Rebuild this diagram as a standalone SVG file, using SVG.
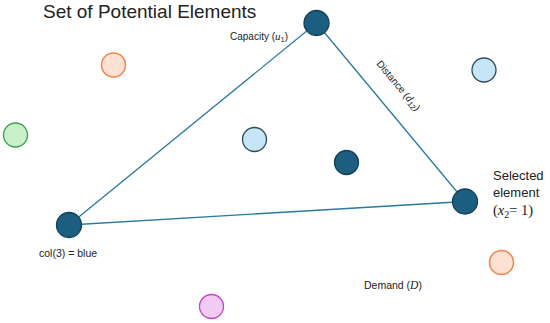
<svg xmlns="http://www.w3.org/2000/svg" width="550" height="323" viewBox="0 0 550 323">
<style>
.lbl{font-family:"Liberation Sans",Arial,sans-serif;fill:#222}
.m{font-family:"Liberation Serif","Times New Roman",serif;font-style:italic}
.s{font-family:"Liberation Serif","Times New Roman",serif;font-style:normal}
.dark{fill:#1b5e80;stroke:#143f55;stroke-width:1.3}
.lb{fill:#c6e5f6;stroke:#2c4d5e;stroke-width:1.3}
.or{fill:#fde1d3;stroke:#f0844a;stroke-width:1.5}
.gr{fill:#c9f0c9;stroke:#3f9f4f;stroke-width:1.3}
.pk{fill:#f1cbf1;stroke:#c244c2;stroke-width:1.3}
.edge{stroke:#2a7aa0;stroke-width:1.3;fill:none}
</style>
<rect width="550" height="323" fill="#fff"/>
<text class="lbl" x="43" y="18" font-size="19">Set of Potential Elements</text>
<g id="connectors">
<line class="edge" x1="316.5" y1="23" x2="69" y2="225"/>
<line class="edge" x1="316.5" y1="23" x2="465" y2="201.5"/>
<line class="edge" x1="69" y1="225" x2="465" y2="201.5"/>
</g>
<g id="n1"><circle class="dark" cx="316.5" cy="23" r="12.5"/></g>
<g id="n2"><circle class="dark" cx="465" cy="201.5" r="12.5"/></g>
<g id="n3"><circle class="dark" cx="69" cy="225" r="12.5"/></g>
<g id="n4"><circle class="dark" cx="346.5" cy="162.5" r="12"/></g>
<g id="n5"><circle class="lb" cx="254.5" cy="139.5" r="12"/></g>
<g id="n6"><circle class="lb" cx="484" cy="70" r="12"/></g>
<g id="n7"><circle class="or" cx="113.5" cy="65" r="12"/></g>
<g id="n8"><circle class="gr" cx="15.5" cy="135" r="12"/></g>
<g id="n9"><circle class="pk" cx="211.5" cy="306.5" r="12"/></g>
<g id="n10"><circle class="or" cx="501.5" cy="262.5" r="12"/></g>
<text class="lbl" x="230" y="40" font-size="10">Capacity (<tspan class="m" font-size="11">u</tspan><tspan font-size="7.5" dy="2">1</tspan><tspan dy="-2">)</tspan></text>
<text class="lbl" transform="translate(376,64) rotate(50)" font-size="10">Distance (<tspan class="m" font-size="11">d</tspan><tspan font-size="7.5" dy="2">12</tspan><tspan dy="-2">)</tspan></text>
<text class="lbl" font-size="13"><tspan x="493" y="180">Selected</tspan><tspan x="493" y="197">element</tspan></text>
<text class="lbl" x="493" y="215" font-size="14.5"><tspan class="s">(</tspan><tspan class="m">x</tspan><tspan class="s" font-size="10" dy="3">2</tspan><tspan class="s" dy="-3">= 1)</tspan></text>
<text class="lbl" x="39" y="257" font-size="10.5">col(3) = blue</text>
<text class="lbl" x="364" y="289" font-size="10.5">Demand (<tspan class="m" font-size="11.5">D</tspan>)</text>
</svg>
